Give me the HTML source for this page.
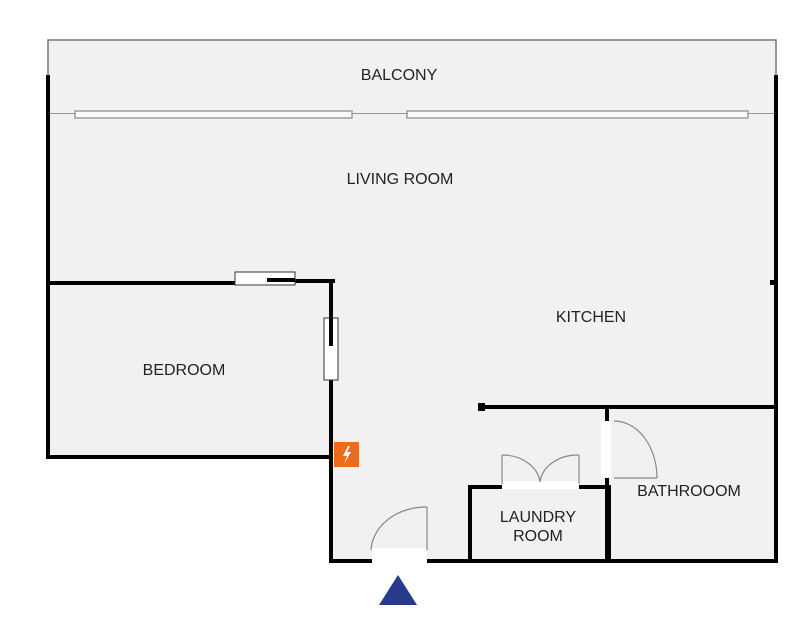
<!DOCTYPE html>
<html><head><style>body{margin:0;background:#fff}svg{display:block}text{font-family:"Liberation Sans",sans-serif;font-size:16px;fill:#222;text-anchor:middle}</style></head>
<body>
<svg width="799" height="624" viewBox="0 0 799 624">
<rect x="48" y="40" width="728" height="74" fill="#f1f1f1" stroke="#777" stroke-width="1.5"/>
<polygon points="48,114 776,114 776,561 331,561 331,457 48,457" fill="#f1f1f1"/>
<g stroke="#888" stroke-width="1.2" fill="#fafafa">
<rect x="75" y="111" width="277" height="7"/>
<rect x="407" y="111" width="341" height="7"/>
</g>
<g stroke="#000" stroke-width="4" fill="none" stroke-linecap="square">
<line x1="48" y1="77" x2="48" y2="457"/>
<line x1="776" y1="77" x2="776" y2="561"/>
<line x1="48" y1="283" x2="236" y2="283"/>
<line x1="267" y1="281" x2="333" y2="281"/>
<line x1="331" y1="281" x2="331" y2="345"/>
<line x1="331" y1="380" x2="331" y2="561"/>
<line x1="48" y1="457" x2="331" y2="457"/>
<line x1="331" y1="561" x2="371" y2="561"/>
<line x1="427" y1="561" x2="776" y2="561"/>
<line x1="481" y1="407" x2="776" y2="407"/>
<line x1="607" y1="407" x2="607" y2="420"/>
<line x1="607" y1="480" x2="607" y2="561"/>
<rect x="470" y="487" width="139" height="74"/>
</g>
<rect x="478" y="403" width="7" height="8" fill="#000"/>
<rect x="770" y="280" width="5" height="5" fill="#000"/>
<rect x="235" y="272" width="60" height="13" fill="#fff" stroke="#333" stroke-width="1"/>
<line x1="267" y1="280" x2="295" y2="280" stroke="#000" stroke-width="4"/>
<rect x="324" y="318" width="14" height="62" fill="#fff" stroke="#333" stroke-width="1"/>
<line x1="331" y1="318" x2="331" y2="346" stroke="#000" stroke-width="4"/>
<rect x="372" y="548" width="55" height="16" fill="#fff"/>
<rect x="502" y="481" width="77" height="8" fill="#fff"/>
<rect x="601" y="421" width="10" height="57" fill="#fff"/>
<g stroke="#888" stroke-width="1.2" fill="none">
<line x1="427" y1="507" x2="427" y2="550"/>
<path d="M371,550 A55,45 0 0 1 427,507"/>
<line x1="502" y1="455" x2="502" y2="484"/>
<path d="M502,455 A38,30 0 0 1 540,482"/>
<line x1="579" y1="455" x2="579" y2="484"/>
<path d="M579,455 A38,30 0 0 0 540,482"/>
<line x1="614" y1="478" x2="657" y2="478"/>
<path d="M614,421 A43,57 0 0 1 657,478"/>
</g>
<rect x="334" y="442" width="25" height="25" fill="#ee6a1c"/>
<path d="M348,446 L343,456 L347,456 L344,464 L351,452 L347,452 L350,446Z" fill="#fff"/>
<polygon points="398,575 417,605 379,605" fill="#283a8c"/>
<text x="399" y="80">BALCONY</text>
<text x="400" y="184">LIVING ROOM</text>
<text x="591" y="322">KITCHEN</text>
<text x="184" y="375">BEDROOM</text>
<text x="689" y="496">BATHROOOM</text>
<text x="538" y="522">LAUNDRY</text>
<text x="538" y="541">ROOM</text>
</svg>
</body></html>
